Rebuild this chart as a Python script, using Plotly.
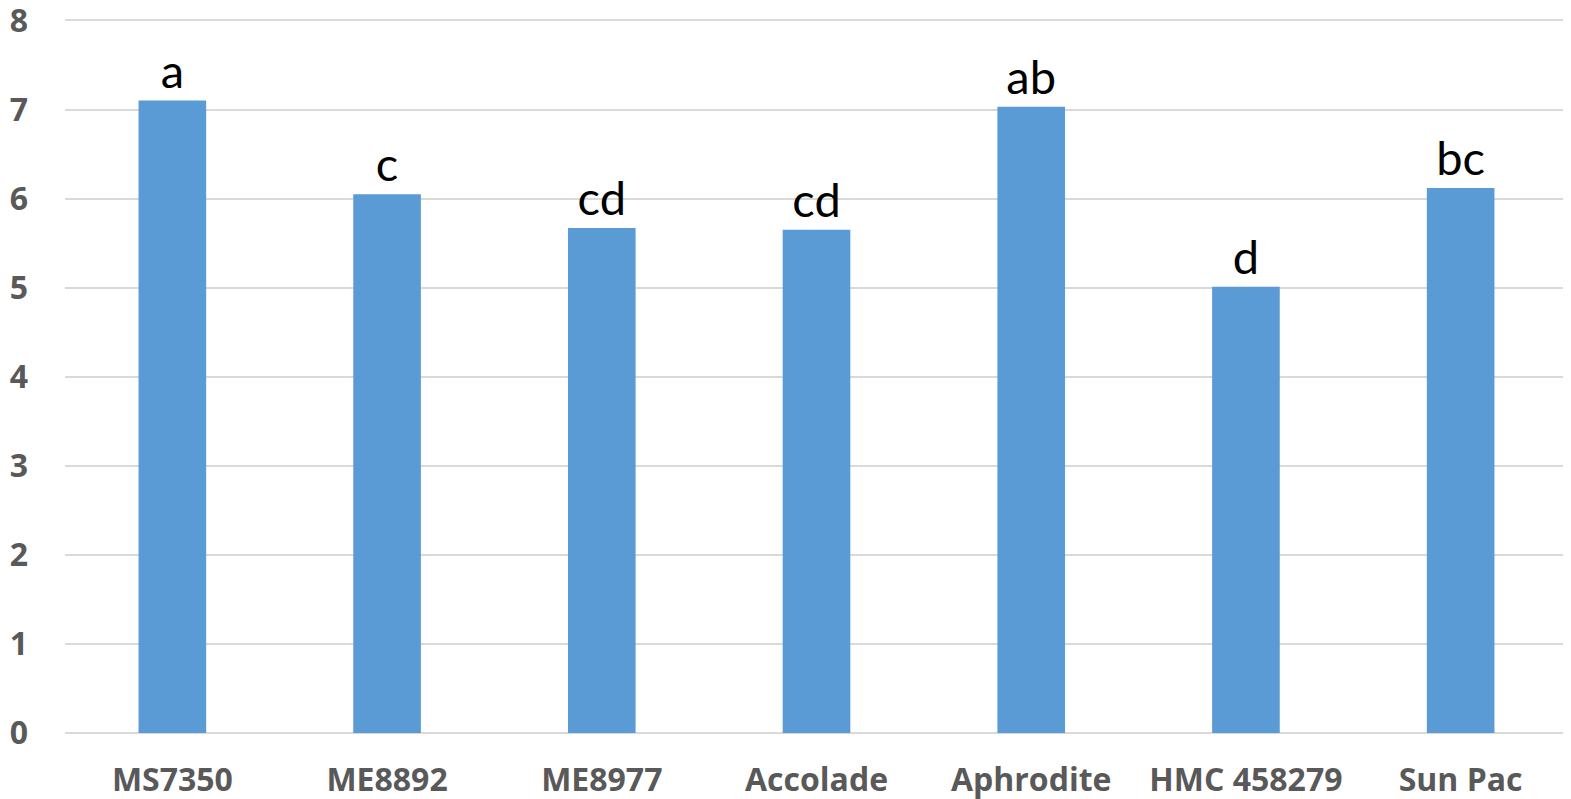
import plotly.graph_objects as go

categories = ["MS7350", "ME8892", "ME8977", "Accolade", "Aphrodite", "HMC 458279", "Sun Pac"]
values = [7.10, 6.05, 5.67, 5.65, 7.03, 5.01, 6.12]
letters = ["a", "c", "cd", "cd", "ab", "d", "bc"]
y_ticks = [0, 1, 2, 3, 4, 5, 6, 7, 8]

fig = go.Figure(go.Bar(
    x=categories, y=values, text=letters,
    textposition="outside",
    textfont=dict(family="Lato", size=47, color="#000000"),
    marker=dict(color="#5B9BD5", line=dict(width=0)),
    cliponaxis=False,
))

# page body has an 8px margin, so the figure is sized to fit the window
fig.update_layout(
    width=1563, height=791,
    margin=dict(l=57, r=3, t=7.5, b=66),
    plot_bgcolor="white", paper_bgcolor="white",
    bargap=0.685,
    showlegend=False,
    xaxis=dict(
        showgrid=False, showline=False, ticks="", automargin=False,
        tickfont=dict(family="Open Sans", size=32, color="#595959", weight="bold"),
        ticklabelstandoff=25,
    ),
    yaxis=dict(
        range=[0, 8.05], tickvals=y_ticks, ticktext=[str(v) for v in y_ticks],
        showgrid=True, gridcolor="#d9d9d9", gridwidth=1.5, automargin=False,
        zeroline=True, zerolinecolor="#d9d9d9", zerolinewidth=1.5,
        showline=False, ticks="", ticklabeloverflow="allow",
        tickfont=dict(family="Open Sans", size=32, color="#595959", weight="bold"),
        ticklabelstandoff=36,
    ),
)

fig.write_html("out.html")
